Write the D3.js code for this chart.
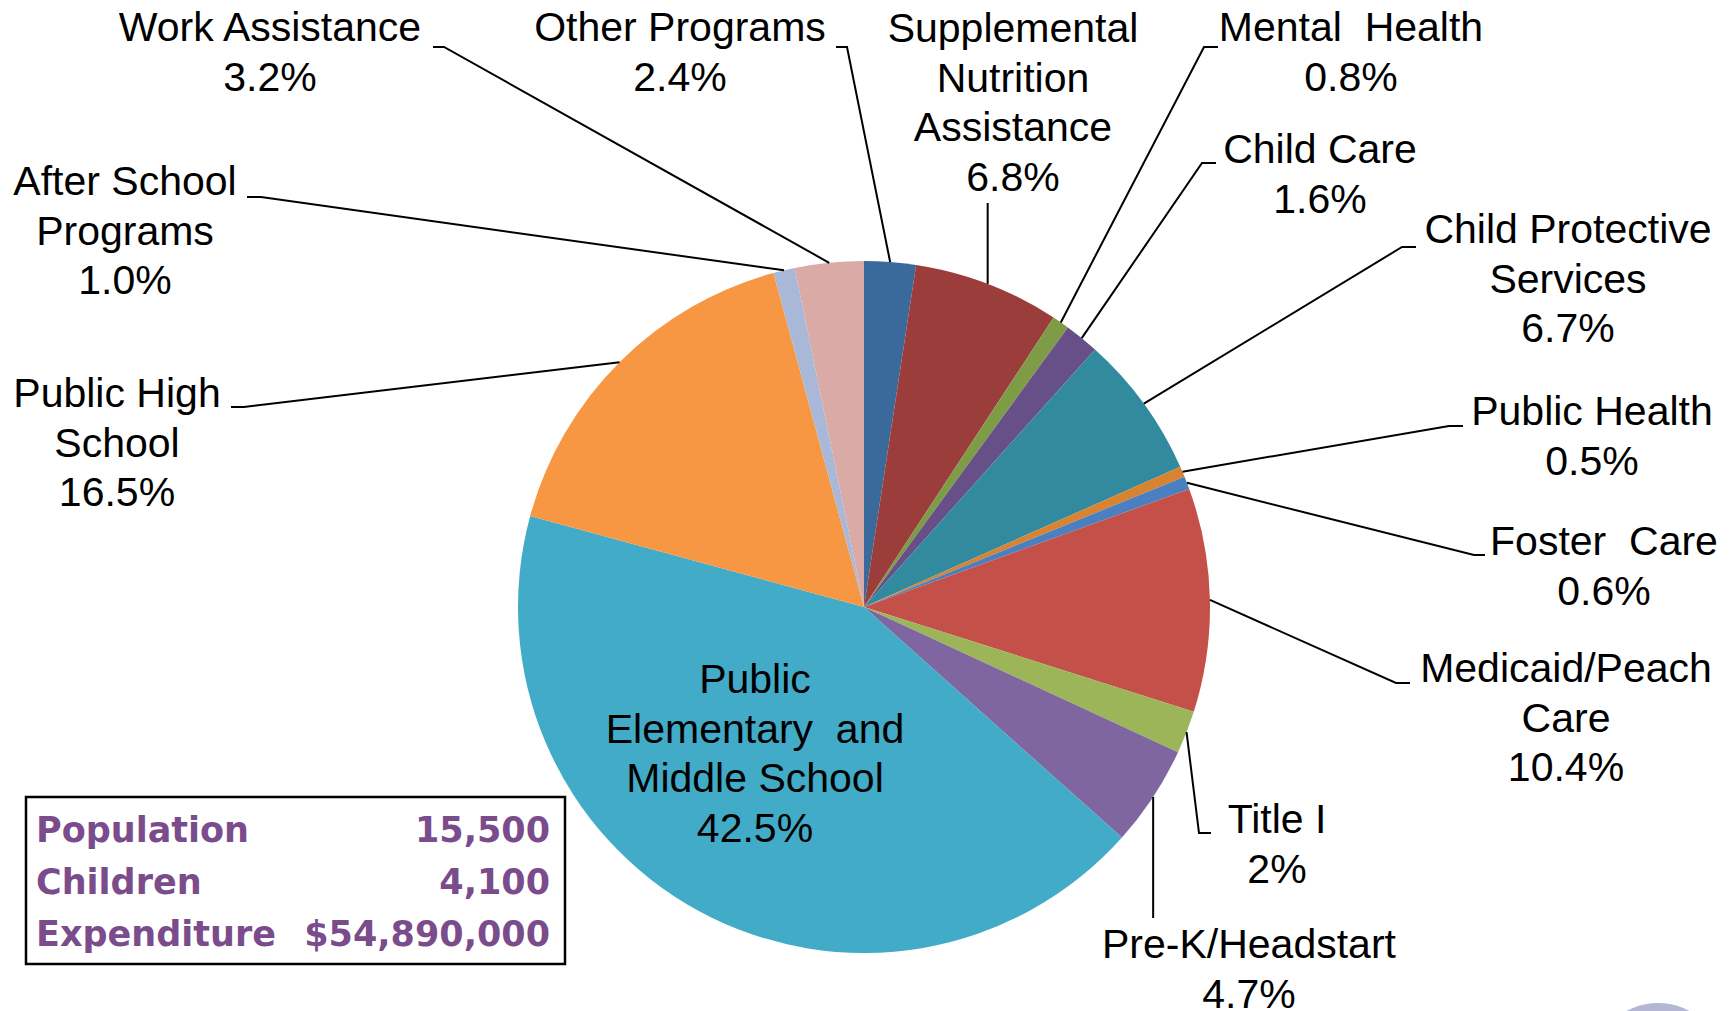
<!DOCTYPE html>
<html>
<head>
<meta charset="utf-8">
<script src="https://cdn.jsdelivr.net/npm/d3@7"></script>
<style>
  body { margin: 0; background: #fff; }
  svg { display: block; }
  .lbl { font-family: "Liberation Sans", Arial, sans-serif; font-size: 41px; fill: #000; }
  .stat { font-family: "DejaVu Sans", sans-serif; font-weight: bold; font-size: 35px; fill: #7b4c8c; }
</style>
</head>
<body>
<div id="chart"></div>
<script>
// slices, clockwise from 12 o'clock
const categories = ["Other Programs", "Supplemental Nutrition Assistance", "Mental Health", "Child Care",
  "Child Protective Services", "Public Health", "Foster Care", "Medicaid/Peach Care", "Title I",
  "Pre-K/Headstart", "Public Elementary and Middle School", "Public High School",
  "After School Programs", "Work Assistance"];
const values = [2.4, 6.8, 0.8, 1.6, 6.7, 0.5, 0.6, 10.4, 2, 4.7, 42.5, 16.5, 1.0, 3.2];
const pctText = ["2.4%", "6.8%", "0.8%", "1.6%", "6.7%", "0.5%", "0.6%", "10.4%", "2%", "4.7%", "42.5%", "16.5%", "1.0%", "3.2%"];
const nameLines = [["Other Programs"], ["Supplemental", "Nutrition", "Assistance"], ["Mental  Health"], ["Child Care"],
  ["Child Protective", "Services"], ["Public Health"], ["Foster  Care"], ["Medicaid/Peach", "Care"], ["Title I"],
  ["Pre-K/Headstart"], ["Public", "Elementary  and", "Middle School"], ["Public High", "School"],
  ["After School", "Programs"], ["Work Assistance"]];
const colors = ["#3a6a9c", "#9b3d3a", "#7e9b46", "#674f87", "#328a9f", "#d9822f", "#4a80bf", "#c4504a",
  "#9bb558", "#7f66a0", "#42abc7", "#f79743", "#a9b8d6", "#d9aaa6"];

const statNames = ["Population", "Children", "Expenditure"];
const statValues = ["15,500", "4,100", "$54,890,000"];

// label placement: centre x, first baseline, leader bends (null x = keep previous x)
const labelLayout = [
  { x: 680, y: 41, pts: [[847, 47], [836, 47]] },
  { x: 1013, y: 42, pts: [[null, 203]] },
  { x: 1351, y: 41, pts: [[1204, 47], [1218, 47]] },
  { x: 1320, y: 163, pts: [[1202, 163], [1216, 163]] },
  { x: 1568, y: 243, pts: [[1402, 247], [1416, 247]] },
  { x: 1592, y: 425, pts: [[1449, 426], [1463, 426]] },
  { x: 1604, y: 555, pts: [[1474, 555], [1485, 555]] },
  { x: 1566, y: 682, pts: [[1396, 683], [1410, 683]] },
  { x: 1277, y: 833, pts: [[1199, 833], [1211, 833]] },
  { x: 1249, y: 958, pts: [[null, 918]] },
  { x: 755, y: 693, pts: null },
  { x: 117, y: 407, pts: [[244, 407], [231, 407]] },
  { x: 125, y: 195, pts: [[261, 197], [247, 197]] },
  { x: 270, y: 41, pts: [[444, 47], [433, 47]] }
];

const width = 1734, height = 1011;
const cx = 864, cy = 607, radius = 346, lineH = 49.5;

const svg = d3.select("#chart").append("svg")
  .attr("width", width)
  .attr("height", height);

const data = categories.map((c, i) => ({ name: c, value: values[i], i }));

const pie = d3.pie().sort(null).value(d => d.value);
const arc = d3.arc().innerRadius(0).outerRadius(radius);
const edge = d3.arc().innerRadius(radius).outerRadius(radius);
const arcs = pie(data);

const g = svg.append("g").attr("transform", `translate(${cx},${cy})`);

g.selectAll("path.slice")
  .data(arcs)
  .enter().append("path")
  .attr("class", "slice")
  .attr("d", arc)
  .attr("fill", d => colors[d.data.i]);

// leader lines
const line = d3.line();
arcs.forEach(d => {
  const lay = labelLayout[d.data.i];
  if (!lay.pts) return;
  const c = edge.centroid(d);
  const pts = [[cx + c[0], cy + c[1]]];
  lay.pts.forEach(p => {
    const prev = pts[pts.length - 1];
    pts.push([p[0] == null ? prev[0] : p[0], p[1]]);
  });
  svg.append("path")
    .attr("d", line(pts))
    .attr("fill", "none")
    .attr("stroke", "#000")
    .attr("stroke-width", 2);
});

// labels
arcs.forEach(d => {
  const i = d.data.i;
  const lay = labelLayout[i];
  const lines = nameLines[i].concat([pctText[i]]);
  const t = svg.append("text")
    .attr("class", "lbl")
    .attr("text-anchor", "middle")
    .attr("xml:space", "preserve");
  lines.forEach((s, k) => {
    t.append("tspan")
      .attr("x", lay.x)
      .attr("y", lay.y + k * lineH)
      .text(s);
  });
});

// stats box
const box = svg.append("g");
box.append("rect")
  .attr("x", 26).attr("y", 797)
  .attr("width", 539).attr("height", 167)
  .attr("fill", "#fff")
  .attr("stroke", "#000")
  .attr("stroke-width", 2.5);

statNames.forEach((s, k) => {
  box.append("text").attr("class", "stat")
    .attr("x", 36).attr("y", 842 + k * 52)
    .text(s);
  box.append("text").attr("class", "stat")
    .attr("x", 550).attr("y", 842 + k * 52)
    .attr("text-anchor", "end")
    .text(statValues[k]);
});

// slide decoration peeking in at the bottom right
svg.append("circle")
  .attr("cx", 1658).attr("cy", 1069).attr("r", 66)
  .attr("fill", "#b4b7d3");
</script>
</body>
</html>
